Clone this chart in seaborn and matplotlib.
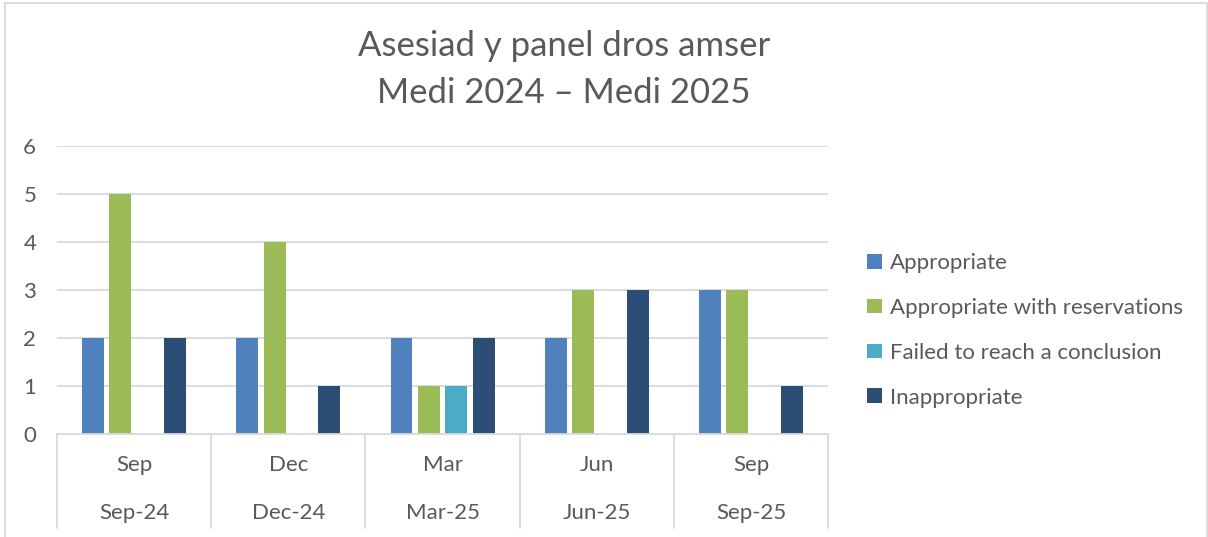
import matplotlib
matplotlib.use('Agg')
import matplotlib.pyplot as plt
import matplotlib.transforms as mtransforms
from matplotlib.patches import Rectangle
import pandas as pd
import seaborn as sns

# chart data
months = ['Sep', 'Dec', 'Mar', 'Jun', 'Sep']
periods = ['Sep-24', 'Dec-24', 'Mar-25', 'Jun-25', 'Sep-25']
outcomes = [
    'Appropriate',
    'Appropriate with reservations',
    'Failed to reach a conclusion',
    'Inappropriate'
]
appropriate = [2, 2, 2, 2, 3]
with_reservations = [5, 4, 1, 3, 3]
failed = [0, 0, 1, 0, 0]
inappropriate = [2, 1, 2, 3, 1]

colors = ['#4F81BD', '#9BBB59', '#4BACC6', '#2C4D75']
text_grey = '#595959'
line_grey = '#D9D9D9'

sns.set_style('white')
plt.rcParams['font.family'] = ['Lato', 'DejaVu Sans']

rows = []
for series, name in zip(
    [appropriate, with_reservations, failed, inappropriate], outcomes
):
    for p, v in zip(periods, series):
        rows.append({'Period': p, 'Outcome': name, 'Count': v})
df = pd.DataFrame(rows)

fig = plt.figure(figsize=(12.08, 5.37), dpi=100)
ax = fig.add_axes([0.0472, 0.1918, 0.6383, 0.5363])

sns.barplot(
    data=df,
    x='Period',
    y='Count',
    hue='Outcome',
    hue_order=outcomes,
    order=periods,
    palette=colors,
    width=0.71,
    gap=0.2,
    saturation=1,
    linewidth=0,
    ax=ax
)

ax.set_ylim(0, 6)
ax.set_xlim(-0.5, len(periods) - 0.5)
ax.set_yticks(range(0, 7))
ax.yaxis.grid(True, color=line_grey, linewidth=1.3)
ax.set_axisbelow(True)
for s in ['top', 'right', 'left']:
    ax.spines[s].set_visible(False)
ax.spines['bottom'].set_color(line_grey)
ax.spines['bottom'].set_linewidth(1.3)

ax.tick_params(axis='y', labelsize=16, colors=text_grey, length=0, pad=15)
ax.set_xticks(range(len(months)))
ax.set_xticklabels(months)
ax.tick_params(axis='x', labelsize=16, colors=text_grey, length=0, pad=15)
ax.set_xlabel('')
ax.set_ylabel('')

# second level of category labels and separators
trans = mtransforms.blended_transform_factory(ax.transData, ax.transAxes)
for i, p in enumerate(periods):
    ax.text(i, -0.275, p, transform=trans, ha='center', va='center',
            fontsize=16, color=text_grey)
for i in range(len(periods) + 1):
    ax.plot([i - 0.5, i - 0.5], [0, -0.325], transform=trans,
            color=line_grey, linewidth=1.3, clip_on=False)

fig.suptitle('Asesiad y panel dros amser\nMedi 2024 \u2013 Medi 2025',
             x=0.467, y=0.945, fontsize=25, color=text_grey,
             linespacing=1.6)

leg = ax.legend(
    loc='center left',
    bbox_to_anchor=(1.025, 0.36),
    frameon=False,
    fontsize=16,
    labelcolor=text_grey,
    handlelength=0.65,
    handleheight=0.65,
    handletextpad=0.35,
    labelspacing=1.12
)

# chart border
fig.patches.append(Rectangle((0.004, -0.01), 0.995, 1.005,
                             transform=fig.transFigure, fill=False,
                             edgecolor=line_grey, linewidth=1.3))

fig.savefig('out.png', dpi=100)
